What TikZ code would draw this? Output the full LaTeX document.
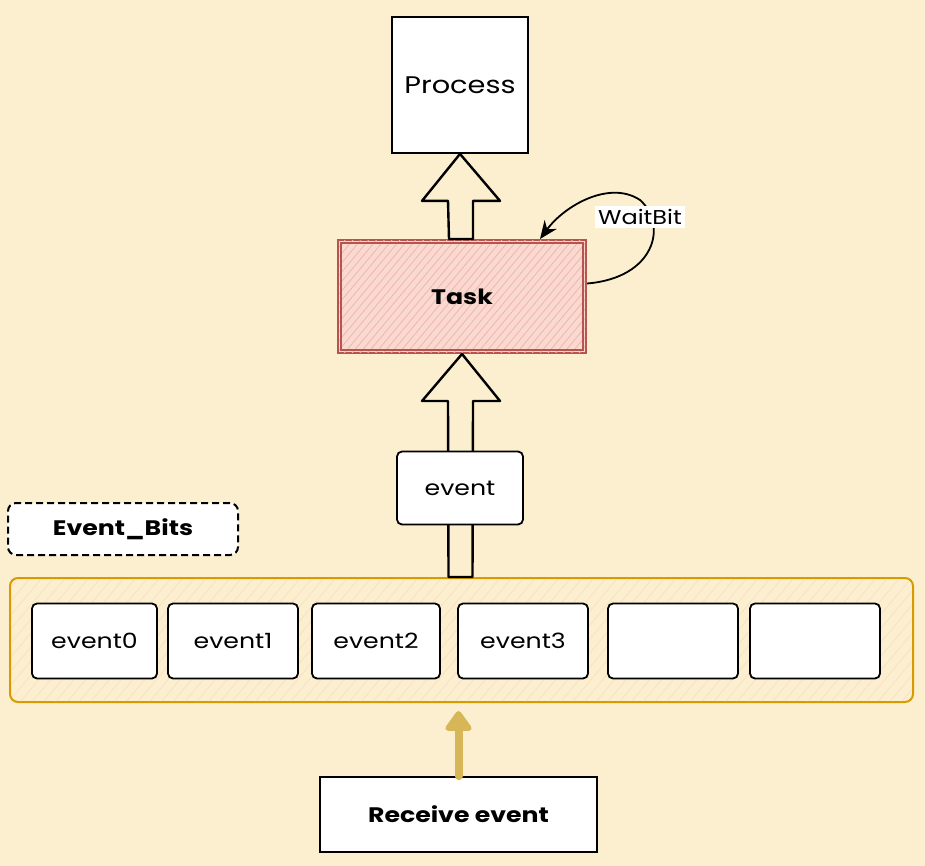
\documentclass[tikz,border=0pt]{standalone}
\usepackage{fontspec}
\setmainfont{Poppins}[FakeStretch=1.2]
\usetikzlibrary{calc,arrows.meta,patterns.meta}
\definecolor{bgc}{RGB}{252,239,208}
\definecolor{taskred}{RGB}{184,84,80}
\definecolor{taskfill}{RGB}{250,218,208}
\definecolor{taskhatch}{RGB}{240,180,172}
\definecolor{bitsorange}{RGB}{215,155,0}
\definecolor{bitshatch}{RGB}{250,224,196}
\definecolor{recvyellow}{RGB}{214,182,86}
\begin{document}
\begin{tikzpicture}[x=1pt,y=-1pt,
  box/.style={draw=black, line width=1.8pt, fill=white, inner sep=0pt, font=\fontsize{21}{24}\selectfont},
  slot/.style={box, rounded corners=5pt, minimum height=75pt},
  blk/.style={draw=black, line width=2.4pt, fill=bgc, line join=round},
  boldtxt/.style={font=\fontsize{21}{24}\selectfont\bfseries}
]
\useasboundingbox (0,0) rectangle (925,866);
\fill[bgc] (0,0) rectangle (925,866);

% Process
\node[box, minimum width=136pt, minimum height=136pt, font=\fontsize{24}{28}\selectfont] (process) at (460,85) {Process};

% Task
\node[draw=taskred, line width=2pt, fill=taskfill, minimum width=248pt, minimum height=113pt] (task) at (462,296.5) {};
\fill[pattern={Lines[angle=50,distance=6pt,line width=0.8pt]}, pattern color=taskhatch] ($(task.south west)+(2,-2)$) rectangle ($(task.north east)+(-2,2)$);
\draw[taskred, line width=1.6pt] ($(task.south west)+(4,-4)$) rectangle ($(task.north east)+(-4,4)$);
\node[boldtxt] at (task.center) {Task};

% Container of bits
\node[draw=bitsorange, line width=2pt, fill=bgc, rounded corners=8pt, minimum width=903pt, minimum height=124pt] (bits) at (461.5,640) {};
\fill[pattern={Lines[angle=50,distance=9pt,line width=0.8pt]}, pattern color=bitshatch, rounded corners=8pt] ($(bits.south west)+(2,-2)$) rectangle ($(bits.north east)+(-2,2)$);

% block arrow task -> process
\draw[blk] ($(task.north)+(-13,0)$) -- ($(process.south)+(-12,47)$) -- ($(process.south)+(-38,47)$) -- (process.south) -- ($(process.south)+(40,47)$) -- ($(process.south)+(13,47)$) -- ($(task.north)+(11,0)$) -- cycle;

% block arrow bits -> task
\draw[blk] ($(bits.north)+(-13,0)$) -- ($(task.south)+(-14,47)$) -- ($(task.south)+(-40,47)$) -- (task.south) -- ($(task.south)+(38,47)$) -- ($(task.south)+(11,47)$) -- ($(bits.north)+(11,0)$) -- cycle;

% event box
\node[slot, minimum width=126pt, minimum height=73pt] (event) at (460,488) {event};

% WaitBit loop
\coordinate (wbstart) at ($(task.east)+(0,-13)$);
\coordinate (wbend) at ($(task.north)+(78,0)$);
\draw[line width=1.8pt, -{Stealth[length=18pt,width=15pt]}] (wbstart) .. controls (655,278) and (668,225) .. (640,200) .. controls (610,180) and (565,205) .. (wbend);
\node[fill=white, inner sep=3pt, font=\fontsize{20}{23}\selectfont] (waitbit) at (640,217) {WaitBit};

% Event_Bits label
\node[draw=black, dash pattern=on 7pt off 4pt, line width=2pt, fill=white, rounded corners=8pt, minimum width=230pt, minimum height=52pt, boldtxt] (evbits) at (123,529) {Event\_Bits};

% slots
\node[slot, minimum width=125pt] (e0) at (94.5,641) {event0};
\node[slot, minimum width=130pt] (e1) at (233,641) {event1};
\node[slot, minimum width=128pt] (e2) at (376,641) {event2};
\node[slot, minimum width=130pt] (e3) at (523,641) {event3};
\node[slot, minimum width=130pt] (e4) at (673,641) {};
\node[slot, minimum width=130pt] (e5) at (815,641) {};

% Receive event
\node[box, minimum width=277pt, minimum height=75pt, boldtxt] (recv) at (458.5,814.5) {Receive event};
\draw[recvyellow, line width=8pt, line cap=round, -{Triangle[round, length=22pt, width=30pt]}] (recv.north) -- ($(bits.south)+(-3,8)$);
\end{tikzpicture}
\end{document}
